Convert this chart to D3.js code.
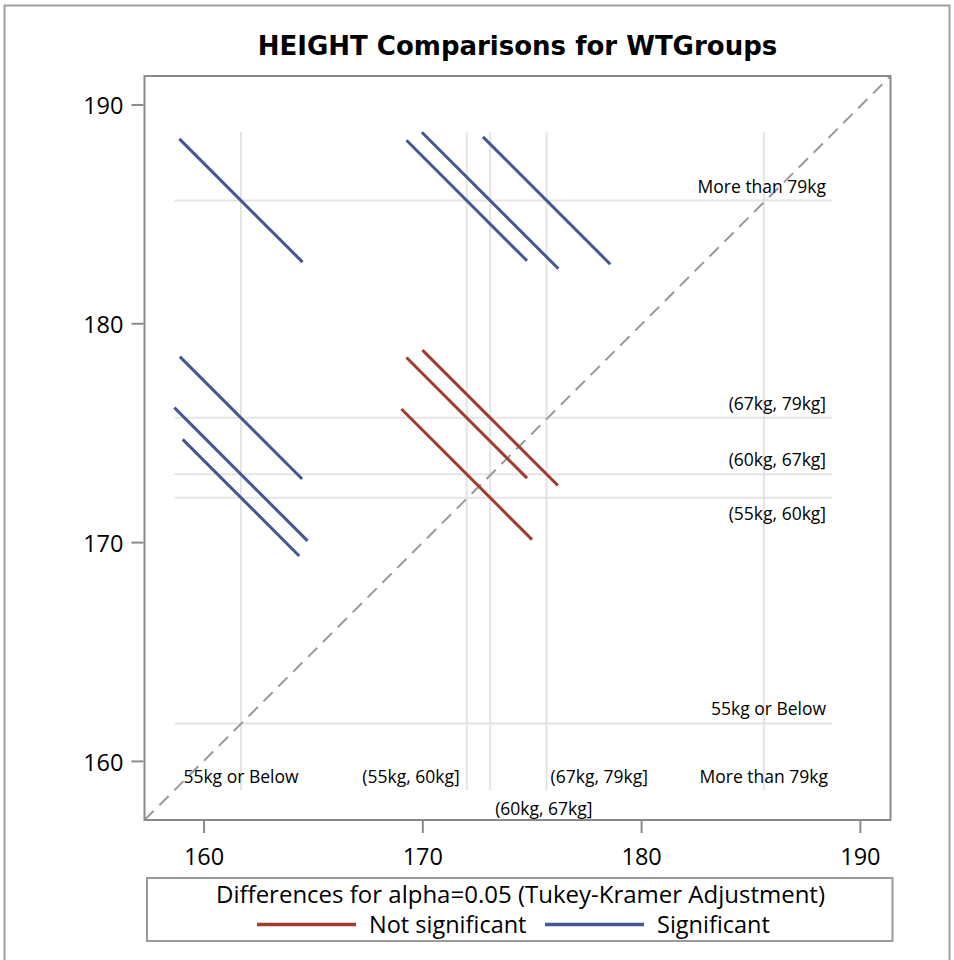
<!DOCTYPE html>
<html>
<head>
<meta charset="utf-8">
<script src="https://cdn.jsdelivr.net/npm/d3@7"></script>
<style>
  html, body { margin: 0; padding: 0; background: #fff; }
  svg { display: block; }
  text { font-family: "Open Sans", "DejaVu Sans", sans-serif; fill: #000; }
</style>
</head>
<body>
<script>
// ---------------- data ----------------
const chartTitle = "HEIGHT Comparisons for WTGroups";
const categories = ["55kg or Below", "(55kg, 60kg]", "(60kg, 67kg]", "(67kg, 79kg]", "More than 79kg"];
const groupMeans = [161.71, 172.03, 173.10, 175.68, 185.61];
// comparisons: x group index, y group index, CI half-width of the difference, significance
const pairX = [0, 0, 0, 0, 1, 1, 1, 2, 2, 3];
const pairY = [1, 2, 3, 4, 2, 3, 4, 3, 4, 4];
const ciHalfWidth = [5.33, 6.09, 5.59, 5.63, 5.97, 5.51, 5.51, 6.19, 6.24, 5.82];
const significant = [true, true, true, true, false, false, true, false, true, true];
const tickValues = [160, 170, 180, 190];
const legendTitle = "Differences for alpha=0.05 (Tukey-Kramer Adjustment)";
const legendLabels = ["Not significant", "Significant"];
const axisDomainX = [157.3, 191.4];
const axisDomainY = [157.3, 191.3];

// ---------------- drawing ----------------
const W = 954, H = 960;
const colNS = "#A23A2E", colS = "#445694";
const svg = d3.select("body").append("svg").attr("width", W).attr("height", H);

// outer border
svg.append("rect").attr("x", 4.5).attr("y", 5.5).attr("width", 945).attr("height", H + 10)
  .attr("fill", "none").attr("stroke", "#a0a0a0").attr("stroke-width", 2);

const plot = { left: 144.5, right: 890.5, top: 76, bottom: 820 };
const x = d3.scaleLinear().domain(axisDomainX).range([plot.left, plot.right]);
const y = d3.scaleLinear().domain(axisDomainY).range([plot.bottom, plot.top]);

// title
svg.append("text").attr("x", (plot.left + plot.right) / 2).attr("y", 54.5)
  .attr("text-anchor", "middle").attr("font-size", 26).attr("font-weight", "bold")
  .style("font-family", "'DejaVu Sans', 'Open Sans', sans-serif")
  .text(chartTitle);

// segments
const segs = pairX.map((gi, k) => {
  const gj = pairY[k], h = ciHalfWidth[k] / 2;
  return { x1: groupMeans[gi] - h, y1: groupMeans[gj] + h,
           x2: groupMeans[gi] + h, y2: groupMeans[gj] - h, sig: significant[k] };
});
const allCoords = segs.flatMap(s => [s.x1, s.x2, s.y1, s.y2]);
const refMin = d3.min(allCoords), refMax = d3.max(allCoords);

const g = svg.append("g");
// reference lines
g.selectAll("line.vref").data(groupMeans).join("line")
  .attr("x1", d => x(d)).attr("x2", d => x(d))
  .attr("y1", y(refMin)).attr("y2", y(refMax))
  .attr("stroke", "#e4e4e4").attr("stroke-width", 2);
g.selectAll("line.href").data(groupMeans).join("line")
  .attr("y1", d => y(d)).attr("y2", d => y(d))
  .attr("x1", x(refMin)).attr("x2", x(refMax))
  .attr("stroke", "#e4e4e4").attr("stroke-width", 2);

// diagonal
g.append("line")
  .attr("x1", x(axisDomainX[0])).attr("y1", y(axisDomainY[0]))
  .attr("x2", x(axisDomainX[1])).attr("y2", y(axisDomainY[1]))
  .attr("stroke", "#999").attr("stroke-width", 2).attr("stroke-dasharray", "13,8");

// category labels along x (bottom)
const xLabelAnchor = ["middle", "end", "start", "start", "middle"];
const xLabelShift = [0, -7, 5, 4, 0];
const xLabelRow = [0, 0, 1, 0, 0];
g.selectAll("text.xl").data(categories).join("text")
  .attr("x", (d, i) => x(groupMeans[i]) + xLabelShift[i])
  .attr("y", (d, i) => 783 + xLabelRow[i] * 32)
  .attr("text-anchor", (d, i) => xLabelAnchor[i])
  .attr("font-size", 17.5).text(d => d);

// category labels along y (right)
const yLabelBelow = [false, true, false, false, false];
g.selectAll("text.yl").data(categories).join("text")
  .attr("x", x(refMax) - 6)
  .attr("y", (d, i) => y(groupMeans[i]) + (yLabelBelow[i] ? 22 : -8))
  .attr("text-anchor", "end")
  .attr("font-size", 17.5).text(d => d);

// segments
g.selectAll("line.seg").data(segs).join("line")
  .attr("x1", d => x(d.x1)).attr("y1", d => y(d.y1))
  .attr("x2", d => x(d.x2)).attr("y2", d => y(d.y2))
  .attr("stroke", d => d.sig ? colS : colNS).attr("stroke-width", 3);

// frame
svg.append("rect").attr("x", plot.left).attr("y", plot.top)
  .attr("width", plot.right - plot.left).attr("height", plot.bottom - plot.top)
  .attr("fill", "none").attr("stroke", "#8a8a8a").attr("stroke-width", 2);

// axes
const xAxis = d3.axisBottom(x).tickValues(tickValues).tickSize(12).tickPadding(15).tickFormat(d3.format("d"));
const yAxis = d3.axisLeft(y).tickValues(tickValues).tickSize(12).tickPadding(8).tickFormat(d3.format("d"));
const gx = svg.append("g").attr("transform", `translate(0,${plot.bottom + 1})`).call(xAxis);
const gy = svg.append("g").attr("transform", `translate(${plot.left - 1},0)`).call(yAxis);
[gx, gy].forEach(a => {
  a.select(".domain").remove();
  a.selectAll(".tick line").attr("stroke", "#8a8a8a").attr("stroke-width", 2);
  a.selectAll(".tick text").attr("font-size", 23.5).attr("fill", "#000");
});
gy.selectAll(".tick text").attr("dy", "0.4em");

// legend
const leg = { left: 147, right: 892.5, top: 878, bottom: 941 };
svg.append("rect").attr("x", leg.left).attr("y", leg.top)
  .attr("width", leg.right - leg.left).attr("height", leg.bottom - leg.top)
  .attr("fill", "none").attr("stroke", "#9a9a9a").attr("stroke-width", 2);
svg.append("text").attr("x", 520.5).attr("y", 902.5)
  .attr("text-anchor", "middle").attr("font-size", 24).text(legendTitle);
const legX = [257, 545];
const legG = svg.selectAll("g.li").data(legendLabels).join("g")
  .attr("transform", (d, i) => `translate(${legX[i]},0)`);
legG.append("line").attr("x1", 0).attr("x2", 99).attr("y1", 924.5).attr("y2", 924.5)
  .attr("stroke", (d, i) => i === 0 ? colNS : colS).attr("stroke-width", 3.5);
legG.append("text").attr("x", 112).attr("y", 932.5).attr("font-size", 23.5).text(d => d);
</script>
</body>
</html>
